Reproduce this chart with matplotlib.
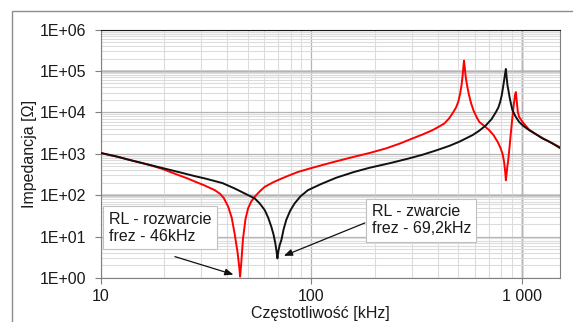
import matplotlib.pyplot as plt
import matplotlib.patches as mpatches
import numpy as np

plt.rcParams['font.family'] = ['Liberation Sans', 'DejaVu Sans']

# RL - rozwarcie (czerwona), odczyt z wykresu: f [kHz], log10(Z [Ohm])
f_open = [10, 12, 14, 16.5, 19.5, 23, 26, 28, 31, 34.9, 37, 38.5, 40.4, 42, 43.4, 44.8,
          45.6, 46.0, 46.5, 47.5, 48.8, 50.2, 52, 54, 57, 60.2, 66, 72.3, 79, 86.6, 98,
          111.7, 130, 157.8, 190, 227, 265, 303, 340, 377, 406, 429, 453, 470, 488, 500,
          510, 518, 524, 529, 532, 536, 542, 550, 562, 575, 590, 610, 629, 665, 701, 735,
          768, 790, 811, 825, 835, 841, 847, 855, 863, 875, 890, 904, 918, 930, 938, 946,
          958, 972, 990, 1008, 1085, 1170, 1255, 1330, 1400, 1517]
logz_open = [3.02, 2.93, 2.84, 2.75, 2.64, 2.50, 2.40, 2.33, 2.24, 2.12, 2.03, 1.93, 1.72, 1.45, 1.05, 0.60,
             0.25, 0.03, 0.30, 0.95, 1.42, 1.68, 1.85, 1.96, 2.09, 2.20, 2.31, 2.40, 2.48, 2.56, 2.64,
             2.72, 2.81, 2.92, 3.02, 3.13, 3.25, 3.37, 3.47, 3.57, 3.66, 3.73, 3.86, 3.98, 4.12, 4.26,
             4.45, 4.66, 4.88, 5.12, 5.25, 5.10, 4.86, 4.66, 4.42, 4.22, 4.05, 3.89, 3.77, 3.67, 3.57, 3.45,
             3.29, 3.16, 3.00, 2.80, 2.56, 2.36, 2.50, 2.70, 2.84, 3.15, 3.55, 3.89, 4.20, 4.43, 4.49, 4.30,
             4.02, 3.89, 3.83, 3.77, 3.58, 3.47, 3.38, 3.31, 3.25, 3.16]

# RL - zwarcie (czarna)
f_short = [10, 12, 14, 16.5, 19.5, 23, 28, 31.5, 34.9, 38, 43.4, 48, 54, 57, 60.2, 62.5,
           64.7, 66.3, 67.6, 68.5, 69.2, 70.0, 71.0, 72.3, 74, 76.2, 79.5, 83.5, 89, 96.6,
           111.7, 131.5, 160, 189, 240, 293, 340, 392, 453, 505, 584, 630, 677, 720, 755,
           775, 790, 803, 811, 822, 832, 841, 848, 856, 865, 875, 888, 904, 935, 972, 1020,
           1085, 1170, 1255, 1330, 1400, 1517]
logz_short = [3.02, 2.93, 2.84, 2.75, 2.66, 2.57, 2.46, 2.40, 2.34, 2.29, 2.16, 2.05, 1.92, 1.80, 1.64, 1.46,
              1.24, 1.05, 0.84, 0.65, 0.47, 0.66, 0.80, 0.92, 1.17, 1.40, 1.62, 1.80, 1.97, 2.12,
              2.27, 2.42, 2.56, 2.66, 2.78, 2.89, 2.98, 3.08, 3.19, 3.29, 3.45, 3.56, 3.69, 3.84, 4.01,
              4.12, 4.25, 4.40, 4.53, 4.72, 4.90, 5.05, 4.85, 4.65, 4.53, 4.38, 4.22, 4.05, 3.90, 3.77, 3.67,
              3.57, 3.47, 3.37, 3.31, 3.25, 3.14]

z_open = [10 ** v for v in logz_open]
z_short = [10 ** v for v in logz_short]

yticks = [1e0, 1e1, 1e2, 1e3, 1e4, 1e5, 1e6]
ytick_labels = ['1E+00', '1E+01', '1E+02', '1E+03', '1E+04', '1E+05', '1E+06']
xticks = [10, 100, 1000]
xtick_labels = ['10', '100', '1 000']

fig = plt.figure(figsize=(5.73, 3.22), dpi=100)
fig.patch.set_facecolor('white')
# ramka obszaru wykresu (jak w Excelu)
fig.patches.append(mpatches.Rectangle((12 / 573, -0.1), 1.2, 1 - 11 / 322 + 0.1,
                                      transform=fig.transFigure, fill=False,
                                      edgecolor='#8c8c8c', linewidth=1.0))

ax = fig.add_axes([0.1754, 0.137, 0.8016, 0.771])
ax.set_xscale('log')
ax.set_yscale('log')
ax.set_xlim(10, 1517)
ax.set_ylim(1, 1e6)

ax.grid(True, which='minor', color='#dcdcdc', linewidth=0.8)
ax.grid(True, which='major', color='#b4b4b4', linewidth=0.9)
for yv in [1e5, 1e2]:
    ax.axhline(yv, color='#1a1a1a', linewidth=1.0, zorder=1.5)
ax.axvline(1000, color='#333333', linewidth=0.9, zorder=1.5)

ax.plot(f_open, z_open, color='#ff0000', linewidth=1.4, zorder=3)
ax.plot(f_short, z_short, color='#111111', linewidth=1.4, zorder=3)

ax.set_yticks(yticks)
ax.set_yticklabels(ytick_labels)
ax.set_xticks(xticks)
ax.set_xticklabels(xtick_labels)
ax.tick_params(which='minor', length=0)
ax.tick_params(which='major', length=4, direction='out', color='#808080',
               labelsize=11.5, labelcolor='#1a1a1a')
ax.tick_params(axis='y', pad=6)
ax.tick_params(axis='x', pad=4)

for sp in ['left', 'bottom', 'right']:
    ax.spines[sp].set_color('#808080')
ax.spines['top'].set_color('#1a1a1a')

ax.set_ylabel('Impedancja [Ω]', fontsize=11.5, color='#1a1a1a', labelpad=2)
ax.set_xlabel('Częstotliwość [kHz]', fontsize=11.5, color='#1a1a1a', labelpad=0)
ax.xaxis.set_label_coords(0.478, -0.115)

box = dict(boxstyle='square,pad=0.35', facecolor='white', edgecolor='#c0c0c0', linewidth=0.8)
ax.text(0.0185, 0.201, 'RL - rozwarcie\nfrez - 46kHz', transform=ax.transAxes,
        ha='left', va='center', fontsize=11.5, color='#1a1a1a', bbox=box,
        linespacing=1.15, zorder=4)
ax.text(0.590, 0.233, 'RL - zwarcie\nfrez - 69,2kHz', transform=ax.transAxes,
        ha='left', va='center', fontsize=11.5, color='#1a1a1a', bbox=box,
        linespacing=1.15, zorder=4)

i_open = int(np.argmin(logz_open))
i_short = int(np.argmin(logz_short))
arrow = dict(arrowstyle='-|>,head_length=0.5,head_width=0.2', color='#111111',
             linewidth=0.9, shrinkA=0, shrinkB=5)
ax.annotate('', xy=(f_open[i_open], z_open[i_open]), xycoords='data',
            xytext=(0.162, 0.0857), textcoords='axes fraction', arrowprops=arrow, zorder=5)
ax.annotate('', xy=(f_short[i_short], z_short[i_short]), xycoords='data',
            xytext=(0.5756, 0.2213), textcoords='axes fraction', arrowprops=arrow, zorder=5)

plt.savefig('out.png', dpi=100, facecolor='white')
plt.close()
